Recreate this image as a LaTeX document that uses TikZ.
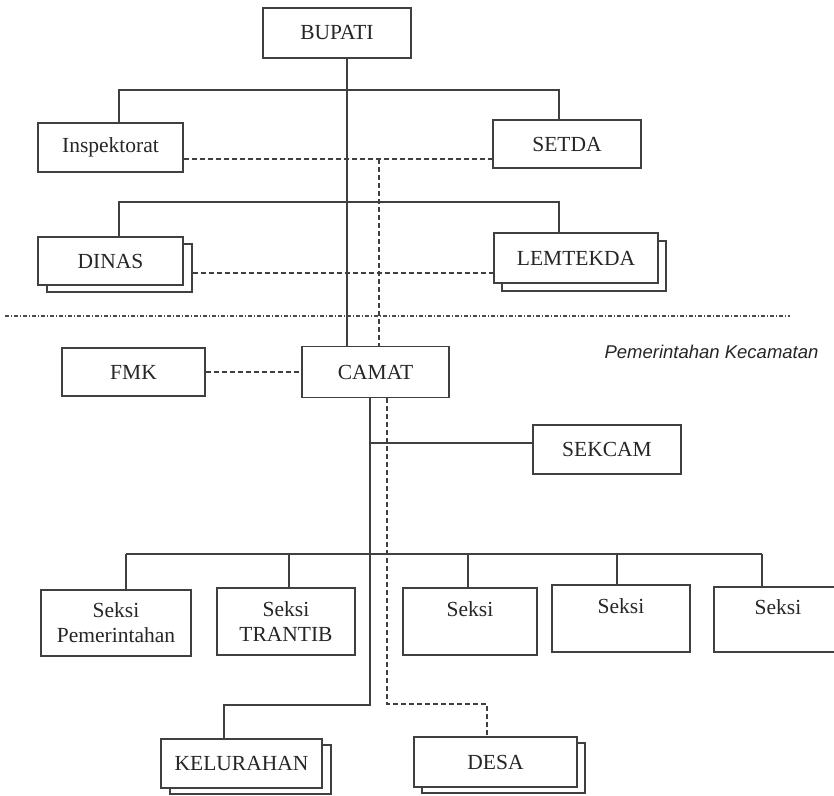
\documentclass[tikz,border=0pt]{standalone}
\usepackage{fontspec}
\setmainfont{Liberation Serif}
\newfontfamily\notefont{Liberation Sans}
\begin{document}
\begin{tikzpicture}[x=1pt,y=-1pt,
  box/.style={draw=black!75, line width=1.2pt, fill=white, text=black!85,
    font=\fontsize{21.5}{25}\selectfont, inner sep=0pt, align=center},
  solidline/.style={draw=black!75, line width=1.1pt},
  dashline/.style={draw=black!75, line width=1.1pt, dash pattern=on 5pt off 3pt},
  borderline/.style={draw=black!70, line width=1.1pt, dash pattern=on 4pt off 2pt on 1pt off 2pt}]
\useasboundingbox (0,0) rectangle (834,795);
\fill[white] (0,0) rectangle (834,795);
\begin{scope}
\clip (0,0) rectangle (834,795);

% joints of the connectors
\coordinate (spine) at (347,0);
\coordinate (j1l) at (119,90);
\coordinate (j1r) at (559,90);
\coordinate (j2l) at (119,202);
\coordinate (j2r) at (559,202);
\coordinate (d1) at (379,159);
\coordinate (d2) at (379,273);
\coordinate (s1) at (370,443);
\coordinate (busl) at (126,554);
\coordinate (busr) at (762,554);
\coordinate (s2) at (370,705);
\coordinate (kj) at (224,705);
\coordinate (dd) at (387,704);
\coordinate (dj) at (487,704);
\coordinate (bl) at (5,316);
\coordinate (br) at (790,316);

% upper level
\node[box, minimum width=148pt, minimum height=50pt] (bupati) at (337,33) {BUPATI};
\node[box, minimum width=145pt, minimum height=49pt] (insp) at (110.5,147.5) {Inspektorat};
\node[box, minimum width=148pt, minimum height=48pt] (setda) at (567,144) {SETDA};
\node[box, minimum width=145pt, minimum height=48pt] (dinasB) at (119.5,268) {};
\node[box, minimum width=145pt, minimum height=48pt] (dinas) at (110.5,261) {DINAS};
\node[box, minimum width=164pt, minimum height=50pt] (lemB) at (584,266) {};
\node[box, minimum width=164pt, minimum height=50pt] (lem) at (576,258) {LEMTEKDA};

% boundary of the sub-district
\draw[borderline] (bl) -- (br);
\node[font=\notefont\itshape\fontsize{18.5}{22}\selectfont, text=black!85, anchor=east] (pk) at (822,352) {Pemerintahan Kecamatan};

% sub-district level
\node[box, minimum width=143pt, minimum height=48pt] (fmk) at (133.5,372) {FMK};
\node[box, minimum width=147pt, minimum height=51pt] (camat) at (375.5,372) {CAMAT};
\node[box, minimum width=148pt, minimum height=49pt] (sekcam) at (607,449.5) {SEKCAM};

\node[box, minimum width=150pt, minimum height=66pt] (s1b) at (116,623) {Seksi\\Pemerintahan};
\node[box, minimum width=138pt, minimum height=67pt] (s2b) at (286,621.5) {Seksi\\TRANTIB};
\node[box, minimum width=134pt, minimum height=67pt] (s3b) at (470,621.5) {Seksi\\\phantom{X}};
\node[box, minimum width=138pt, minimum height=67pt] (s4b) at (621,618.5) {Seksi\\\phantom{X}};
\node[box, minimum width=128pt, minimum height=65pt] (s5b) at (778,619.5) {Seksi\\\phantom{X}};

\node[box, minimum width=161pt, minimum height=49pt] (kelB) at (250.5,769.5) {};
\node[box, minimum width=161pt, minimum height=49pt] (kel) at (241.5,763.5) {KELURAHAN};
\node[box, minimum width=163pt, minimum height=50pt] (desaB) at (503.5,768) {};
\node[box, minimum width=163pt, minimum height=50pt] (desa) at (495.5,762) {DESA};

% command lines
\draw[solidline] (bupati.south -| spine) -- (camat.north -| spine);
\draw[solidline] (insp.north -| j1l) -- (j1l) -- (j1r) -- (setda.north -| j1r);
\draw[solidline] (dinas.north -| j2l) -- (j2l) -- (j2r) -- (lem.north -| j2r);
\draw[solidline] (camat.south -| s1) -- (s2) -- (kj) -- (kel.north -| kj);
\draw[solidline] (s1) -- (sekcam.west |- s1);
\draw[solidline] (busl) -- (busr);
\foreach \n/\xx in {s1b/126, s2b/289, s3b/468, s4b/617, s5b/762}
  \draw[solidline] (\xx,554) -- (\n.north -| \xx,0);

% coordination lines
\draw[dashline] (insp.east |- d1) -- (setda.west |- d1);
\draw[dashline] (d1) -- (camat.north -| d1);
\draw[dashline] (dinasB.east |- d2) -- (lem.west |- d2);
\draw[dashline] (fmk.east) -- (camat.west);
\draw[dashline] (camat.south -| dd) -- (dd) -- (dj) -- (desa.north -| dj);
\end{scope}
\end{tikzpicture}
\end{document}
